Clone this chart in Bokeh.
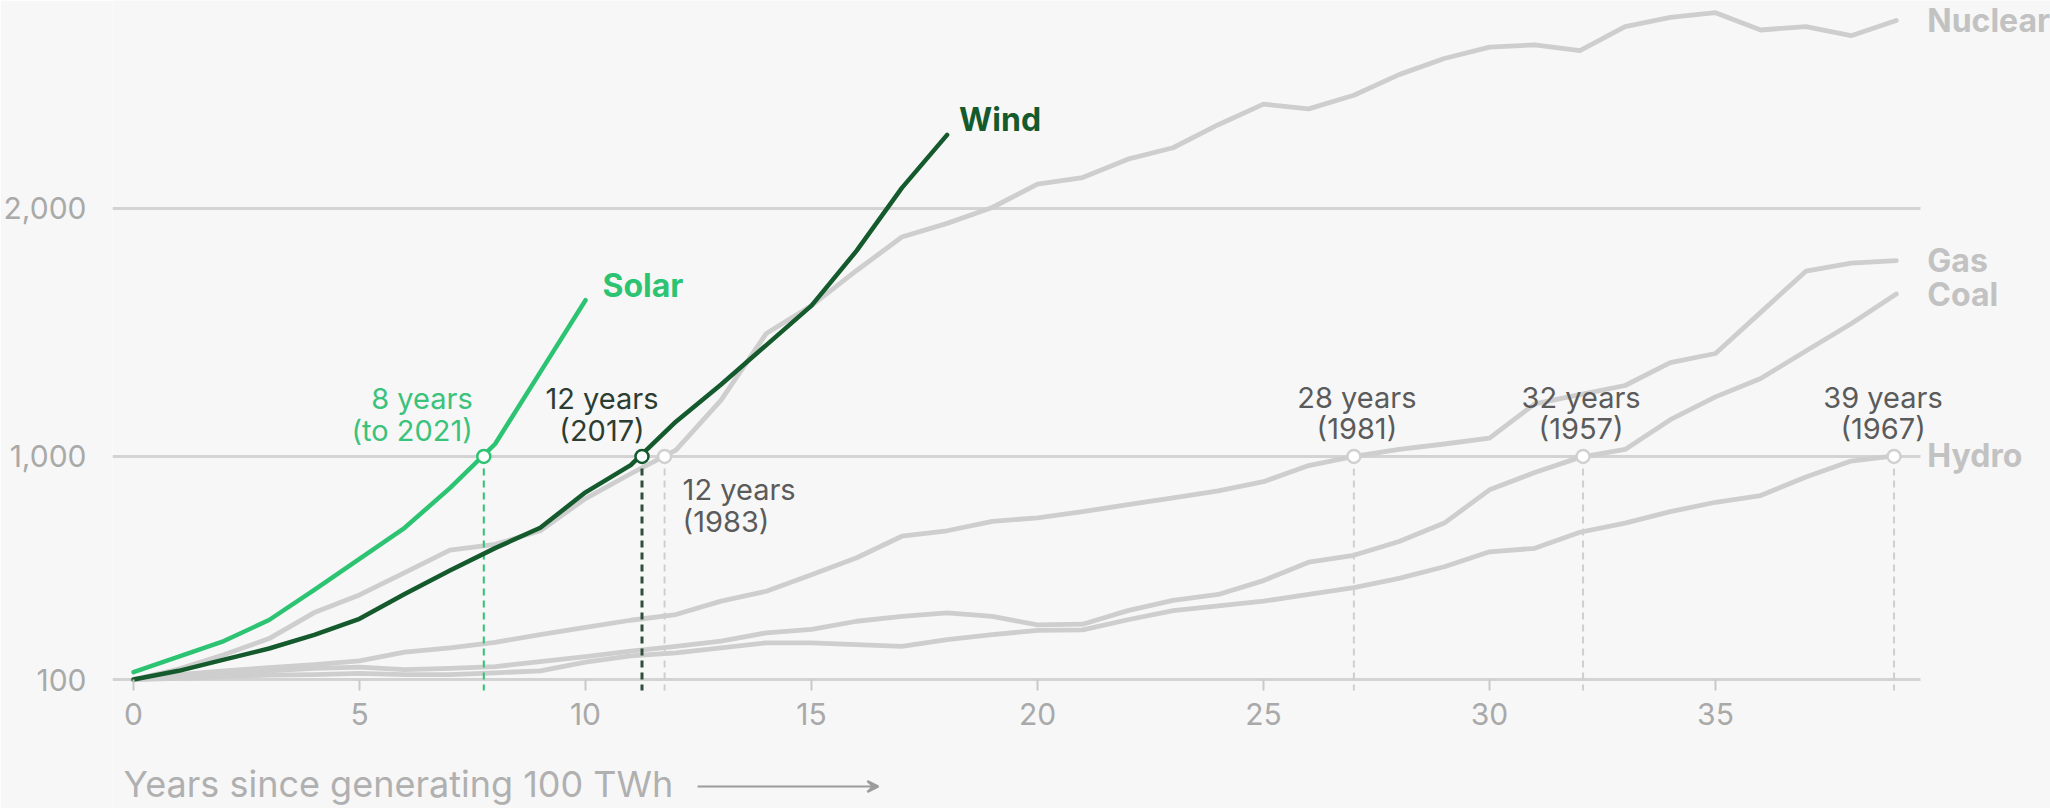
from bokeh.plotting import figure
from bokeh.models import Range1d, FixedTicker, NumeralTickFormatter, Arrow, VeeHead
from bokeh.core.properties import value
from bokeh.embed import file_html
from bokeh.resources import INLINE

# ---------------- data (TWh, one value per year since reaching 100 TWh) -------------
solar = [130, 192, 255, 340, 462, 587, 712, 872, 1050, 1340, 1630]
wind = [100, 135, 180, 225, 280, 345, 445, 540, 630, 712, 855, 965, 1140, 1290,
        1449, 1608, 1830, 2083, 2297]
nuclear = [100, 142, 200, 265, 370, 441, 531, 622, 645, 700, 830, 930, 1025, 1227,
           1496, 1608, 1750, 1885, 1940, 2004, 2098, 2125, 2199, 2245, 2338, 2421,
           2402, 2457, 2540, 2605, 2651, 2660, 2637, 2734, 2771, 2790, 2720, 2734,
           2697, 2758]
gas = [100, 120, 135, 148, 160, 175, 210, 228, 250, 281, 310, 339, 362, 416, 456,
       523, 591, 678, 700, 738, 752, 777, 805, 833, 861, 898, 963, 1000, 1028, 1050,
       1074, 1212, 1249, 1286, 1378, 1415, 1581, 1747, 1780, 1790]
coal = [100, 112, 125, 135, 145, 150, 140, 145, 152, 172, 192, 214, 234, 255, 288,
        302, 335, 355, 369, 355, 320, 323, 378, 419, 443, 499, 573, 601, 657, 731,
        865, 935, 996, 1028, 1148, 1240, 1314, 1425, 1535, 1655]
hydro = [100, 105, 112, 118, 120, 125, 120, 120, 127, 135, 170, 195, 207, 228, 248,
         248, 241, 234, 261, 281, 298, 300, 341, 378, 397, 416, 443, 471, 508, 555,
         615, 629, 694, 731, 777, 815, 842, 917, 981, 1003]

gray_names = ["Nuclear", "Gas", "Coal", "Hydro"]
gray_series = [nuclear, gas, coal, hydro]

milestone = 1000
cross_years = [7.75, 11.25, 11.75, 27.0, 32.07, 38.95]
ann_line1 = ["8 years", "12 years", "12 years", "28 years", "32 years", "39 years"]
ann_line2 = ["(to 2021)", "(2017)", "(1983)", "(1981)", "(1957)", "(1967)"]

x_ticks = [0, 5, 10, 15, 20, 25, 30, 35]
y_ticks = [100, 1000, 2000]
x_title = "Years since generating 100 TWh"

# ---------------- style / layout ----------------
BG = "#f7f7f7"
GRID = "#d3d3d3"
GRAY = "#cecece"
GRAY_LABEL = "#c2c2c2"
SOLAR = "#2cc472"
WIND = "#145a2d"
FONT = "Inter"

W, H = 2050, 808
LEFT = 112                     # frame left edge in px
PX_PER_YEAR = 45.2
X0 = -21 / PX_PER_YEAR         # x value at frame left
X1 = X0 + (W - LEFT) / PX_PER_YEAR
PLOT_END = 39.535              # right end of the grid lines
PX_PER_TWH = 0.2479
Y_TOP = 100 + 679 / PX_PER_TWH
Y_BOT = 100 - (H - 679) / PX_PER_TWH
AXIS_Y = 100 - 11 / PX_PER_TWH  # where the x axis (tick ends) sits

p = figure(width=W, height=H,
           x_range=Range1d(X0, X1), y_range=Range1d(Y_BOT, Y_TOP),
           output_backend="svg", toolbar_location=None,
           min_border_left=LEFT, min_border_right=0, min_border_top=0,
           min_border_bottom=0,
           background_fill_color=BG, border_fill_color=BG, outline_line_color=None)

p.xgrid.visible = False
p.ygrid.visible = False

# horizontal grid lines at the y ticks, ending at the plot's right edge
p.segment(x0=[X0] * len(y_ticks), y0=y_ticks, x1=[PLOT_END] * len(y_ticks),
          y1=y_ticks, line_color=GRID, line_width=3)

p.yaxis.ticker = FixedTicker(ticks=y_ticks)
p.yaxis.formatter = NumeralTickFormatter(format="0,0")
p.yaxis.axis_line_color = None
p.yaxis.major_tick_line_color = None
p.yaxis.minor_tick_line_color = None
p.yaxis.major_label_standoff = 20
p.yaxis.major_label_text_font = FONT
p.yaxis.major_label_text_font_size = "30px"
p.yaxis.major_label_text_color = "#a9a9a9"

p.xaxis.fixed_location = AXIS_Y
p.xaxis.ticker = FixedTicker(ticks=x_ticks)
p.xaxis.axis_line_color = None
p.xaxis.minor_tick_line_color = None
p.xaxis.major_tick_line_color = "#c9c9c9"
p.xaxis.major_tick_line_width = 2
p.xaxis.major_tick_in = 11
p.xaxis.major_tick_out = 0
p.xaxis.major_label_standoff = 12
p.xaxis.major_label_text_font = FONT
p.xaxis.major_label_text_font_size = "30px"
p.xaxis.major_label_text_color = "#a9a9a9"

# gray reference series
for s in gray_series:
    p.line(list(range(len(s))), s, line_color=GRAY, line_width=4.8,
           line_join="round", line_cap="round")

# dashed drop lines from the 1,000 TWh crossing down to the axis
drop_colors = [SOLAR, "#2f4f3b", "#cfcfcf", "#cfcfcf", "#cfcfcf", "#cfcfcf"]
drop_widths = [2, 3, 2, 2, 2, 2]
for xc, c, w in zip(cross_years, drop_colors, drop_widths):
    p.segment(x0=[xc], y0=[milestone], x1=[xc], y1=[AXIS_Y], line_color=c,
              line_width=w, line_dash="7 5")

# highlighted series
p.line(list(range(len(wind))), wind, line_color=WIND, line_width=4.5,
       line_join="round", line_cap="round")
p.line(list(range(len(solar))), solar, line_color=SOLAR, line_width=4.5,
       line_join="round", line_cap="round")

# markers at the 1,000 TWh crossing
marker_colors = [SOLAR, WIND, "#d0d0d0", "#d0d0d0", "#d0d0d0", "#d0d0d0"]
p.scatter(cross_years, [milestone] * len(cross_years), size=13, fill_color="white",
          line_color=marker_colors, line_width=2.5)

# annotation texts
ann_colors = ["#3bc27b", "#2c3d32", "#5b5b5b", "#5b5b5b", "#5b5b5b", "#5b5b5b"]
ann_align = ["right", "center", "left", "center", "center", "center"]
ann_xoff = [-11, -40, 18, 3, -2, -11]
ann_y1 = [-58, -58, 33, -59, -59, -59]
ann_y2 = [-26, -26, 65, -28, -28, -28]
for i, xc in enumerate(cross_years):
    for txt, yo in ((ann_line1[i], ann_y1[i]), (ann_line2[i], ann_y2[i])):
        p.text(x=[xc], y=[milestone], text=[txt], x_offset=ann_xoff[i], y_offset=yo,
               text_align=ann_align[i], text_baseline="middle",
               text_font=value(FONT), text_font_size="29px",
               text_color=ann_colors[i])

# series labels
p.text(x=[len(solar) - 1], y=[solar[-1]], text=["Solar"], x_offset=17, y_offset=-15,
       text_align="left", text_baseline="middle", text_font=value(FONT),
       text_font_size="32px", text_font_style="bold", text_color=SOLAR)
p.text(x=[len(wind) - 1], y=[wind[-1]], text=["Wind"], x_offset=12, y_offset=-15,
       text_align="left", text_baseline="middle", text_font=value(FONT),
       text_font_size="32px", text_font_style="bold", text_color=WIND)
p.text(x=[len(s) - 1 for s in gray_series], y=[s[-1] for s in gray_series],
       text=gray_names, x_offset=31, text_align="left", text_baseline="middle",
       text_font=value(FONT), text_font_size="32px", text_font_style="bold",
       text_color=GRAY_LABEL)

# x axis title with arrow
TITLE_Y = 100 - (783.5 - 679) / PX_PER_TWH
p.text(x=[-10 / PX_PER_YEAR], y=[TITLE_Y], text=[x_title],
       text_align="left", text_baseline="middle", text_font=value(FONT),
       text_font_size="36px", text_color="#b0b0b0")
ARROW_Y = 100 - (786 - 679) / PX_PER_TWH
p.add_layout(Arrow(x_start=12.48, y_start=ARROW_Y, x_end=16.48, y_end=ARROW_Y,
                   line_color="#9c9c9c", line_width=2,
                   end=VeeHead(size=11, line_color="#9c9c9c", line_width=2,
                               fill_color="#9c9c9c")))

open("out.html", "w").write(file_html(p, INLINE))
